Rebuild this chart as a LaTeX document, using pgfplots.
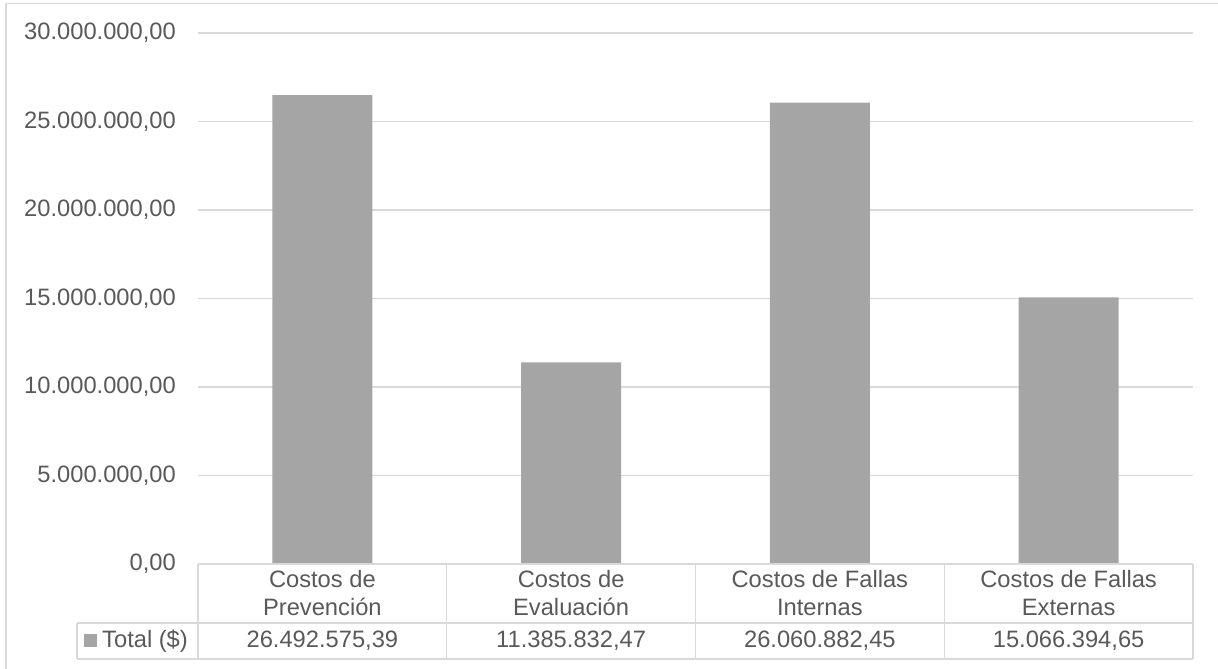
\documentclass[border=0pt]{standalone}
\usepackage{pgfplots}
\pgfplotsset{compat=1.18}
\usepackage{fontspec}
\setmainfont{Liberation Sans}
\definecolor{txt}{RGB}{89,89,89}
\definecolor{gridc}{RGB}{217,217,217}
\definecolor{barc}{RGB}{165,165,165}
\begin{document}
\fontsize{23.7}{28}\selectfont
\begin{tikzpicture}[x=1pt,y=1pt]
\path[use as bounding box] (0,0) rectangle (1218,669);
\draw[gridc, line width=1.3pt] (6,-5) -- (6,665.5) -- (1225,665.5);
\begin{axis}[at={(198pt,105pt)}, anchor=south west, scale only axis,
  width=995pt, height=531pt,
  xmin=-0.5, xmax=3.5, ymin=0, ymax=30000000,
  axis line style={draw=none}, major tick length=0pt,
  ymajorgrids, grid style={gridc, line width=1.3pt},
  scaled y ticks=false,
  xtick={0,1,2,3},
  xticklabels={{Costos de\\Prevención},{Costos de\\Evaluación},{Costos de Fallas\\Internas},{Costos de Fallas\\Externas}},
  xticklabel style={align=center, anchor=center, yshift=-29.5pt, text=txt, font=\fontsize{23.7}{28}\selectfont},
  ytick={0,5000000,10000000,15000000,20000000,25000000,30000000},
  yticklabels={{0,00},{5.000.000,00},{10.000.000,00},{15.000.000,00},{20.000.000,00},{25.000.000,00},{30.000.000,00}},
  yticklabel style={anchor=east, inner sep=0pt, xshift=-22pt, text=txt, font=\fontsize{23.7}{28}\selectfont},
]
\addplot[ybar, bar width=100pt, fill=barc, draw=none] coordinates {(0,26492575.39) (1,11385832.47) (2,26060882.45) (3,15066394.65)};
\end{axis}
\begin{scope}[gridc, line width=1.3pt]
\draw (77,46) -- (1193,46);
\draw (77,10) -- (1193,10);
\draw (198,105) -- (1193,105);
\foreach \x in {198,446.75,695.5,944.25,1193} \draw (\x,105) -- (\x,10);
\draw (77,46) -- (77,10);
\end{scope}
\fill[barc] (84,21.5) rectangle (97,34.5);
\begin{scope}[text=txt, font=\fontsize{23.7}{28}\selectfont]
\node[anchor=west, inner sep=0pt] at (102,28) {Total (\$)};
\node at (322.4,28) {26.492.575,39};
\node at (571.1,28) {11.385.832,47};
\node at (819.9,28) {26.060.882,45};
\node at (1068.6,28) {15.066.394,65};
\end{scope}
\end{tikzpicture}
\end{document}
